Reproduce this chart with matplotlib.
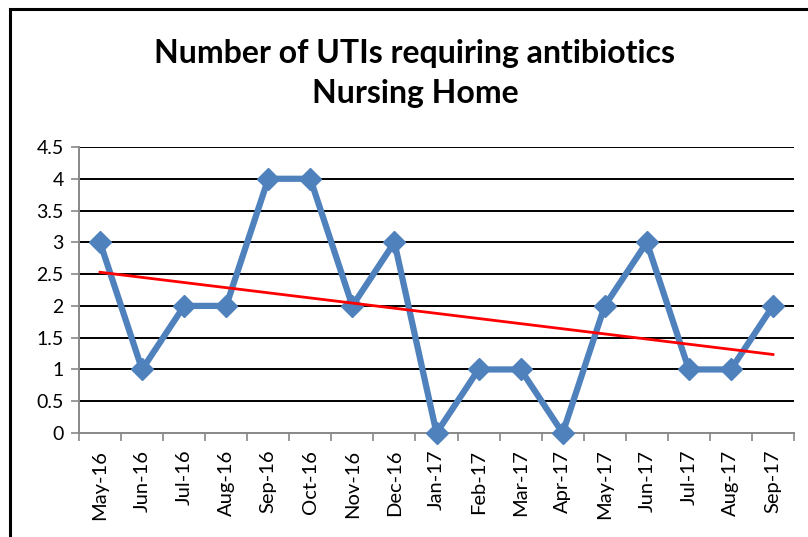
import matplotlib
matplotlib.use("Agg")
import matplotlib.pyplot as plt
from matplotlib.patches import Rectangle
import numpy as np

months = ["May-16", "Jun-16", "Jul-16", "Aug-16", "Sep-16", "Oct-16", "Nov-16", "Dec-16",
          "Jan-17", "Feb-17", "Mar-17", "Apr-17", "May-17", "Jun-17", "Jul-17", "Aug-17", "Sep-17"]
utis = [3, 1, 2, 2, 4, 4, 2, 3, 0, 1, 1, 0, 2, 3, 1, 1, 2]
y_ticks = [0, 0.5, 1, 1.5, 2, 2.5, 3, 3.5, 4, 4.5]
title_text = "Number of UTIs requiring antibiotics\nNursing Home"

plt.rcParams['font.family'] = ['Lato', 'DejaVu Sans']

W, H = 808, 537
fig = plt.figure(figsize=(W / 100, H / 100), dpi=100)
fig.patch.set_facecolor("white")

# outer chart border
fig.add_artist(Rectangle((10 / W, -0.05), 1.2, 1 - 9 / H + 0.05, transform=fig.transFigure,
                         fill=False, edgecolor="black", linewidth=2.2))

ax = fig.add_axes([79 / W, 1 - 433 / H, (794 - 79) / W, (433 - 147) / H])
x = np.arange(len(months))

# gridlines
for v in y_ticks[1:]:
    ax.axhline(v, color="black", linewidth=1.4, zorder=1)

ax.plot(x, utis, color="#4F81BD", linewidth=4.5, marker="D", markersize=11.5,
        markerfacecolor="#4F81BD", markeredgecolor="#4F81BD", zorder=3, clip_on=False)

coef = np.polyfit(x, utis, 1)
ax.plot(x, np.polyval(coef, x), color="#FF0000", linewidth=2, zorder=4)

ax.set_xlim(-0.5, len(months) - 0.5)
ax.set_ylim(0, 4.5)
ax.set_yticks(y_ticks)
ax.set_yticklabels([f"{v:g}" for v in y_ticks], fontsize=14)
ax.set_xticks(x)
ax.set_xticklabels(months, rotation=90, fontsize=14.5)
ax.tick_params(axis="x", length=0, pad=12)
ax.set_xticks(np.arange(len(months) + 1) - 0.5, minor=True)
ax.tick_params(axis="x", which="minor", length=6, color="#888888", width=1.2)
ax.tick_params(axis="y", length=6, color="#888888", width=1.2, pad=5)

for s in ["top", "right"]:
    ax.spines[s].set_visible(False)
for s in ["left", "bottom"]:
    ax.spines[s].set_color("#888888")
    ax.spines[s].set_linewidth(1.4)
    ax.spines[s].set_zorder(2)

fig.text(415 / W, 1 - 73.5 / H, title_text, ha="center", va="center", fontsize=23,
         fontweight="bold", linespacing=1.45)

fig.savefig("out.png", dpi=100)
